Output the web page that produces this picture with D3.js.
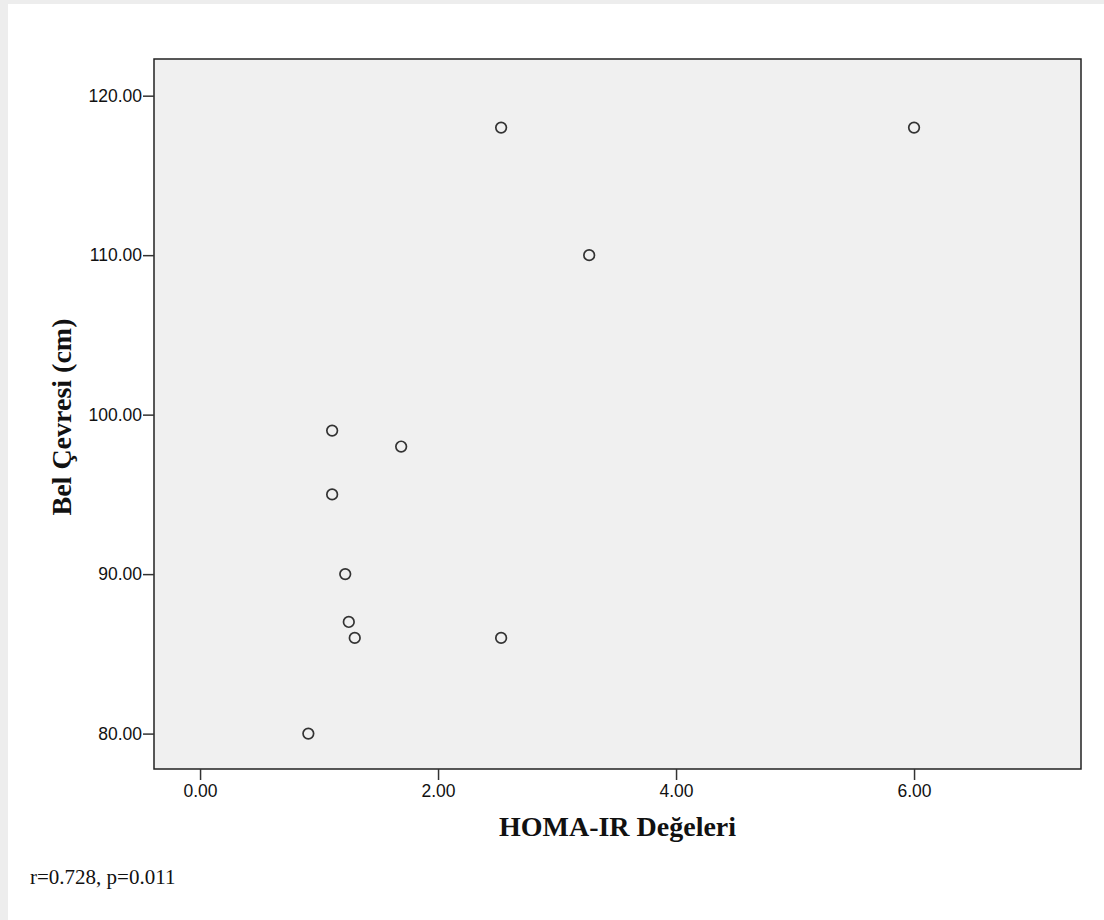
<!DOCTYPE html>
<html>
<head>
<meta charset="utf-8">
<script src="https://cdn.jsdelivr.net/npm/d3@7"></script>
<style>
  body { margin: 0; background: #ededed; }
  svg { display: block; }
</style>
</head>
<body>
<svg width="1104" height="920"></svg>
<script>
const svg = d3.select("svg");
const width = +svg.attr("width");
const height = +svg.attr("height");

// HOMA-IR vs waist circumference
const homaValues = [2.53, 6.0, 3.27, 1.11, 1.69, 1.11, 1.22, 1.25, 1.3, 2.53, 0.91];
const waistValues = [118, 118, 110, 99, 98, 95, 90, 87, 86, 86, 80];
const xTicks = [0, 2, 4, 6];
const yTicks = [80, 90, 100, 110, 120];
const xTitle = "HOMA-IR Değeleri";
const yTitle = "Bel Çevresi (cm)";
const note = "r=0.728, p=0.011";

const plot = { left: 154, top: 59, right: 1081, bottom: 769 };

// page frame (light grey strip on top and left)
svg.append("rect")
  .attr("x", 8).attr("y", 4)
  .attr("width", width - 8).attr("height", height - 4)
  .attr("fill", "#ffffff");

const xScale = d3.scaleLinear().domain([-0.387, 7.403]).range([plot.left, plot.right]);
const yScale = d3.scaleLinear().domain([77.78, 122.3]).range([plot.bottom, plot.top]);

svg.append("rect")
  .attr("x", plot.left).attr("y", plot.top)
  .attr("width", plot.right - plot.left)
  .attr("height", plot.bottom - plot.top)
  .attr("fill", "#f0f0f0")
  .attr("stroke", "#222")
  .attr("stroke-width", 1.5);

const fmt = d3.format(".2f");

const xAxis = d3.axisBottom(xScale).tickValues(xTicks).tickFormat(fmt)
  .tickSize(11).tickPadding(5);
const yAxis = d3.axisLeft(yScale).tickValues(yTicks).tickFormat(fmt)
  .tickSize(11).tickPadding(1);

const styleAxis = (g) => {
  g.select(".domain").remove();
  g.selectAll(".tick line").attr("stroke", "#333").attr("stroke-width", 1.5);
  g.selectAll(".tick text")
    .attr("fill", "#111")
    .attr("font-family", "Liberation Sans, Arial, sans-serif")
    .attr("font-size", 17.5);
};

svg.append("g")
  .attr("transform", `translate(0,${plot.bottom})`)
  .call(xAxis)
  .call(styleAxis);

svg.append("g")
  .attr("transform", `translate(${plot.left},0)`)
  .call(yAxis)
  .call(styleAxis);

svg.append("g")
  .selectAll("circle")
  .data(homaValues)
  .enter()
  .append("circle")
  .attr("cx", (d) => xScale(d))
  .attr("cy", (d, i) => yScale(waistValues[i]))
  .attr("r", 5.3)
  .attr("fill", "none")
  .attr("stroke", "#333")
  .attr("stroke-width", 1.7);

svg.append("text")
  .attr("x", (plot.left + plot.right) / 2)
  .attr("y", 836)
  .attr("text-anchor", "middle")
  .attr("font-family", "Liberation Serif, Times New Roman, serif")
  .attr("font-weight", "bold")
  .attr("font-size", 28)
  .attr("fill", "#111")
  .text(xTitle);

svg.append("text")
  .attr("transform", `translate(71,${(plot.top + plot.bottom) / 2 + 3}) rotate(-90)`)
  .attr("text-anchor", "middle")
  .attr("font-family", "Liberation Serif, Times New Roman, serif")
  .attr("font-weight", "bold")
  .attr("font-size", 28)
  .attr("fill", "#111")
  .text(yTitle);

svg.append("text")
  .attr("x", 30)
  .attr("y", 884)
  .attr("font-family", "Liberation Serif, Times New Roman, serif")
  .attr("font-size", 21)
  .attr("fill", "#111")
  .text(note);
</script>
</body>
</html>
